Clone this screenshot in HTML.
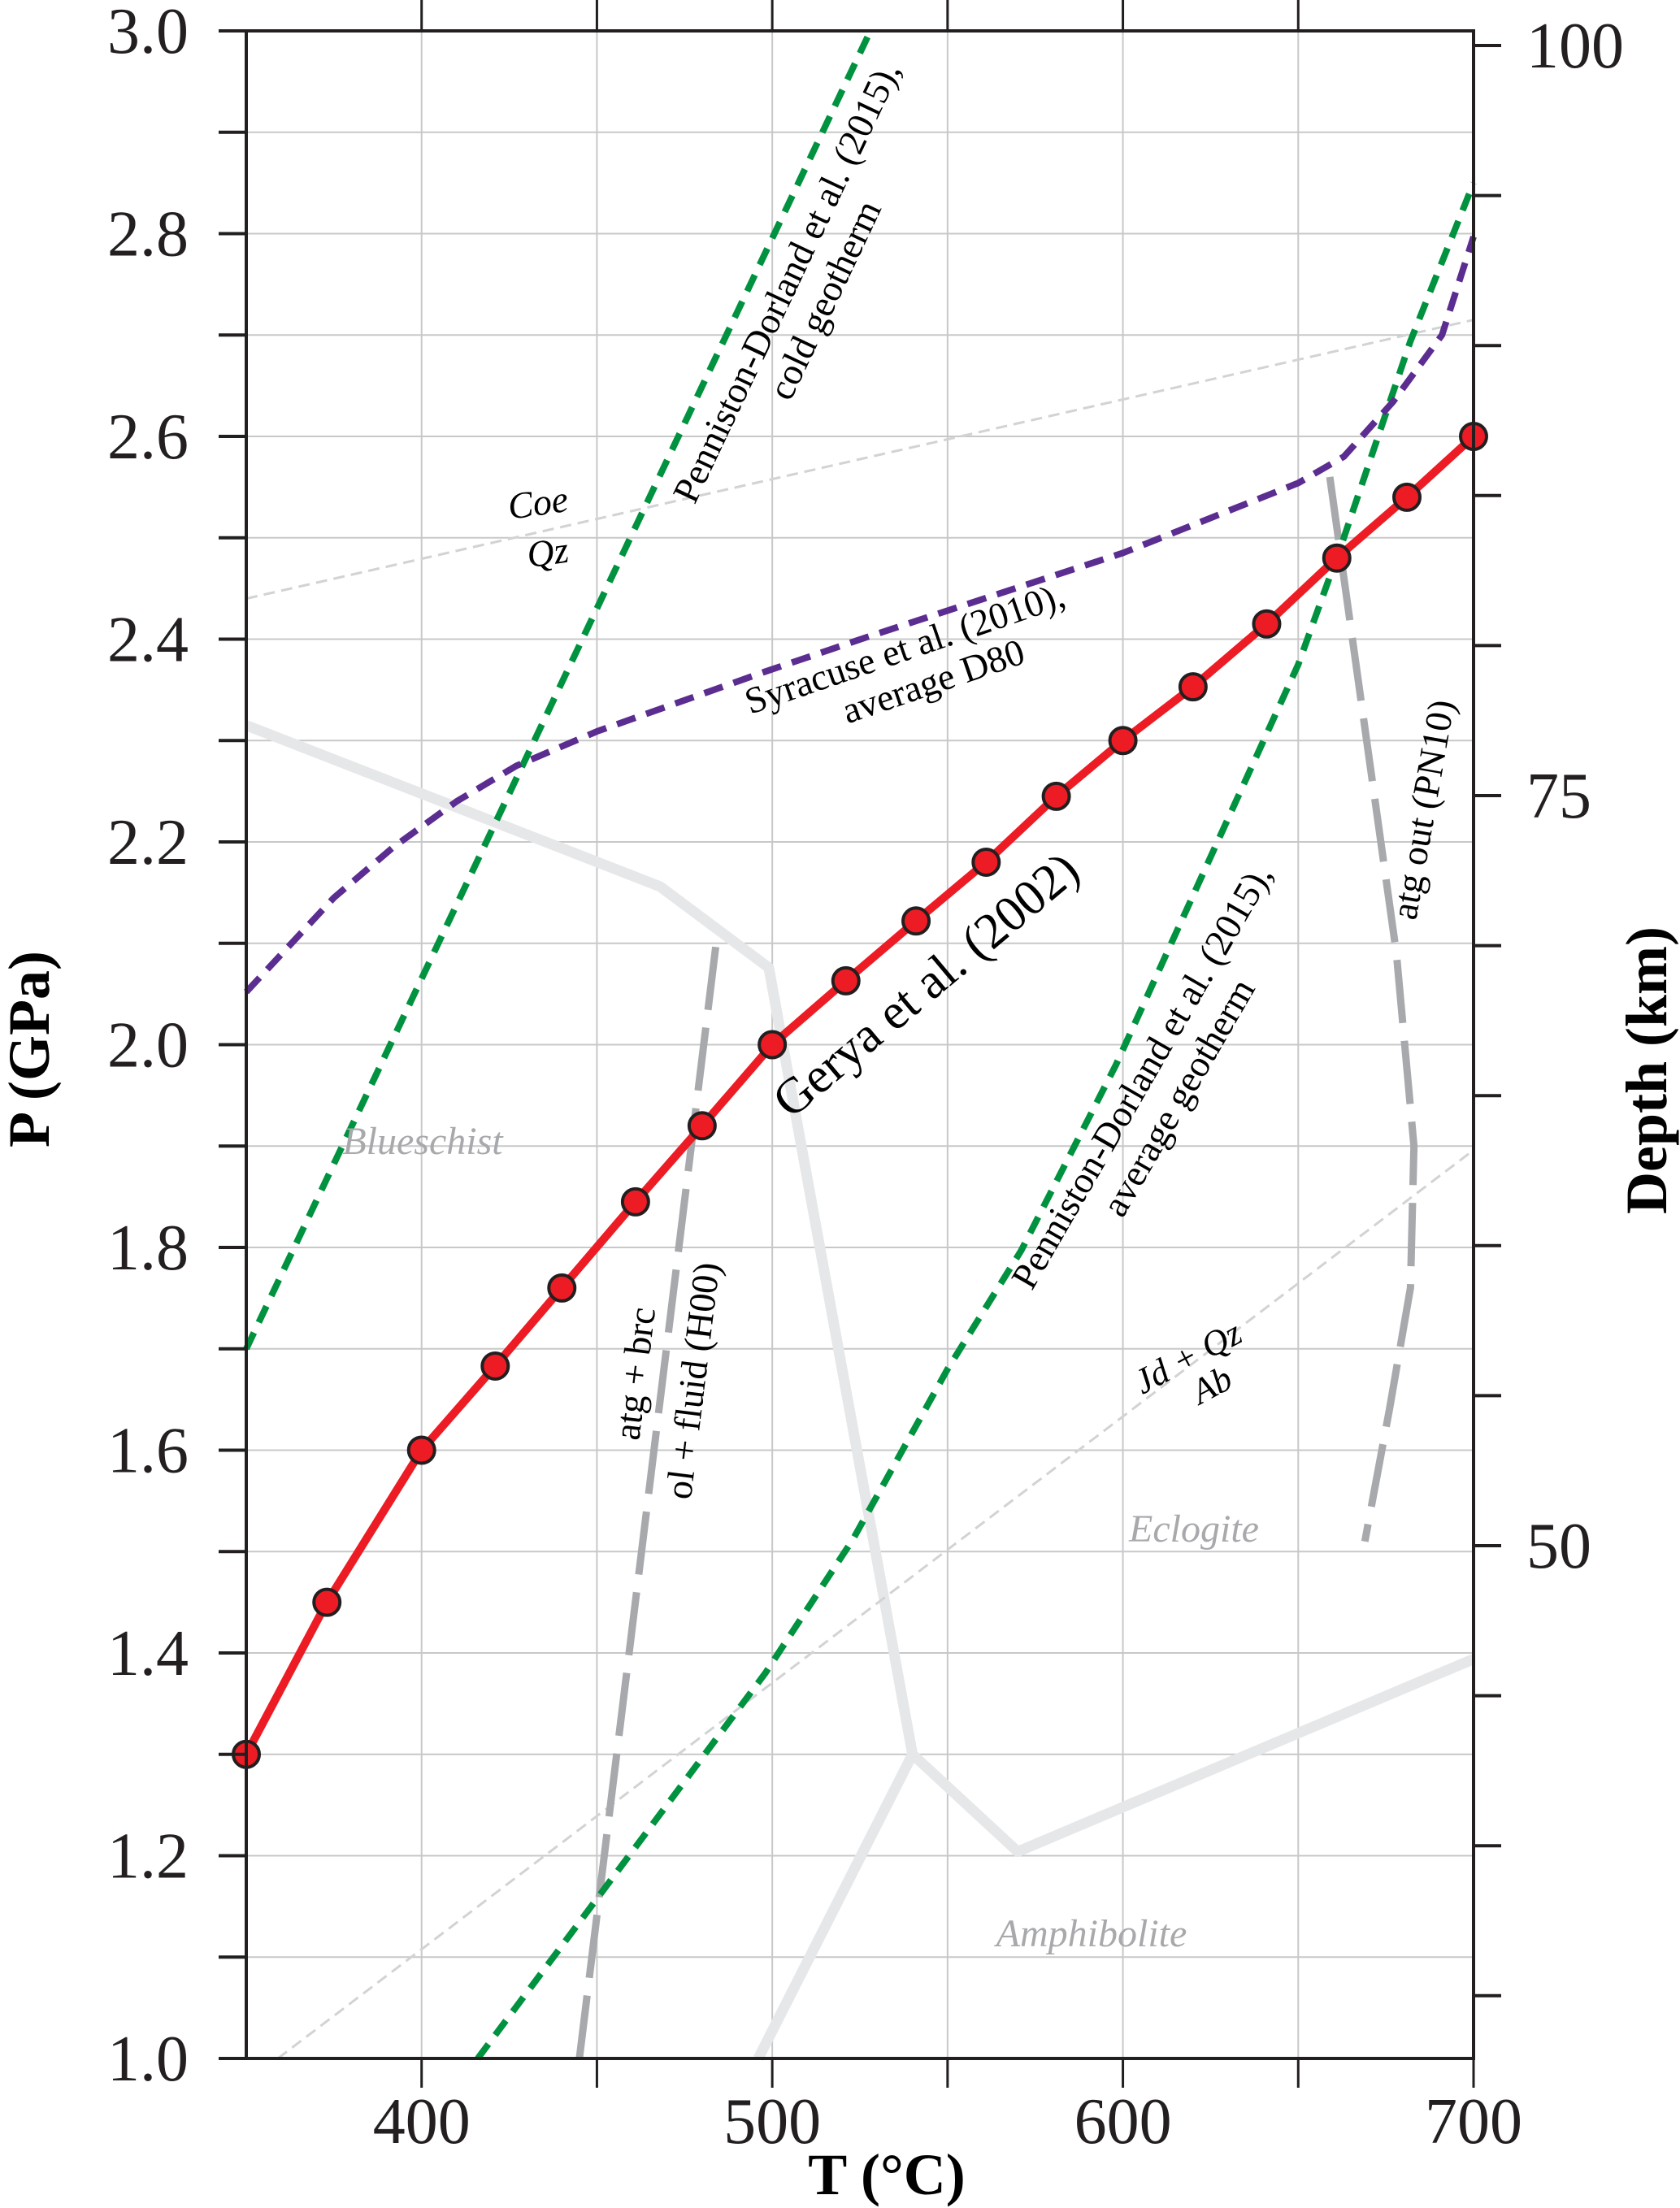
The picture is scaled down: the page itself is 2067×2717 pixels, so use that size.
<!DOCTYPE html>
<html><head><meta charset="utf-8"><style>
html,body{margin:0;padding:0;background:#fff}
svg{display:block;font-family:"Liberation Serif",serif}
</style></head><body>
<svg id="chart" width="2067" height="2717" viewBox="0 0 2067 2717" xmlns="http://www.w3.org/2000/svg">
<g id="grid"></g>
<g id="marks"></g>
<g id="axes"></g>
<g id="labels">
<text x="662" y="634" font-size="46" font-style="italic" text-anchor="middle" transform="rotate(-8 662 620)">Coe</text>
<text x="674" y="695" font-size="46" font-style="italic" text-anchor="middle" transform="rotate(-8 674 681)">Qz</text>
<g transform="translate(949,338) rotate(-64.7)"><text x="0" y="36" font-size="46" text-anchor="middle">Penniston-Dorland et al.  (2015),</text><text x="0" y="88" font-size="46" text-anchor="middle">cold geotherm</text></g>
<g transform="translate(1118,812) rotate(-19)"><text x="0" y="0" font-size="46" text-anchor="middle">Syracuse et al. (2010),</text><text x="20" y="50" font-size="46" text-anchor="middle">average D80</text></g>
<text x="1140" y="1232" font-size="62" text-anchor="middle" transform="rotate(-40 1140 1213)">Gerya et al.  (2002)</text>
<g transform="translate(1418,1332) rotate(-60)"><text x="0" y="0" font-size="46" text-anchor="middle">Penniston-Dorland et al.  (2015),</text><text x="0" y="52" font-size="46" text-anchor="middle">average geotherm</text></g>
<text x="1750" y="1012" font-size="46" text-anchor="middle" transform="rotate(-80 1750 996)">atg out (PN10)</text>
<g transform="translate(812,1694) rotate(-83)"><text x="0" y="-16" font-size="46" text-anchor="middle">atg + brc</text><text x="0" y="56" font-size="46" text-anchor="middle">ol + fluid (H00)</text></g>
<g transform="translate(1472,1690) rotate(-28)"><text x="0" y="-8" font-size="44" font-style="italic" text-anchor="middle">Jd + Qz</text><text x="10" y="36" font-size="44" font-style="italic" text-anchor="middle">Ab</text></g>
<text x="520" y="1420" font-size="48" font-style="italic" fill="#a7a9ac" text-anchor="middle">Blueschist</text>
<text x="1469" y="1897" font-size="48" font-style="italic" fill="#a7a9ac" text-anchor="middle">Eclogite</text>
<text x="1343" y="2395" font-size="48" font-style="italic" fill="#a7a9ac" text-anchor="middle">Amphibolite</text>
<text x="1091" y="2700" font-size="72" font-weight="bold" text-anchor="middle">T (°C)</text>
<text x="0" y="0" font-size="72" font-weight="bold" text-anchor="middle" transform="translate(60,1291) rotate(-90)">P (GPa)</text>
<text x="0" y="0" font-size="72" font-weight="bold" text-anchor="middle" transform="translate(2050,1317) rotate(-90)">Depth (km)</text>
</g>
</svg>
<script>
const coldT=[350,528];
const coldP=[1.7,3.0];
const avgT=[416,498,523,550,571,598,650,663,682,700];
const avgP=[1.0,1.38,1.512,1.68,1.797,1.98,2.375,2.5,2.694,2.85];
const syrT=[350,375,392,410,427,450,498,527,600,650,663,677,691,700];
const syrP=[2.052,2.145,2.195,2.24,2.275,2.309,2.368,2.402,2.485,2.554,2.58,2.634,2.70,2.797];
const coeT=[350,700];
const coeP=[2.44,2.715];
const jdT=[359,700];
const jdP=[1.0,1.896];
const bsT=[350,468,499,540];
const bsP=[2.315,2.156,2.076,1.30];
const amT=[540,570,700];
const amP=[1.30,1.204,1.394];
const loT=[540,496];
const loP=[1.30,1.0];
const hT=[445,484];
const hP=[1.0,2.1];
const pnT=[659,678,683,682,676,669];
const pnP=[2.56,2.09,1.9,1.76,1.64,1.51];
const geryaT=[350,373,400,421,440,461,480,500,521,541,561,581,600,620,641,661,681,700];
const geryaP=[1.3,1.45,1.6,1.683,1.76,1.845,1.92,2.0,2.063,2.122,2.18,2.245,2.3,2.353,2.415,2.48,2.54,2.6];
const pTicks=[1.0,1.2,1.4,1.6,1.8,2.0,2.2,2.4,2.6,2.8,3.0];
const tTicks=[400,500,600,700];
const depthLabels=[50,75,100];

const NS="http://www.w3.org/2000/svg";
const X0=303,X1=1813,Y0=38,Y1=2533;
const xs=t=>X0+(t-350)*(X1-X0)/350;
const ys=p=>Y1-(p-1)*(Y1-Y0)/2;
const yd=d=>1902-(d-50)*36.92;
function mk(tag,attrs,parent){const e=document.createElementNS(NS,tag);for(const k in attrs)e.setAttribute(k,attrs[k]);parent.appendChild(e);return e;}
const grid=document.getElementById('grid'),marks=document.getElementById('marks'),axes=document.getElementById('axes');
for(let i=1;i<20;i++){const p=1+i*0.1;const l=mk('line',{x1:X0,x2:X1,y1:ys(p),y2:ys(p),stroke:'#c8c8c8','stroke-width':2},grid);

}
for(let t=400;t<700;t+=50){const l=mk('line',{x1:xs(t),x2:xs(t),y1:Y0,y2:Y1,stroke:'#c8c8c8','stroke-width':2},grid);

}
function poly(T,P,st,name){const pts=T.map((t,i)=>xs(t)+','+ys(P[i])).join(' ');const e=mk('polyline',Object.assign({points:pts,fill:'none'},st),marks);

return e;}
const lg={stroke:'#e6e7e8','stroke-width':13,'stroke-linejoin':'round'};
poly(bsT,bsP,lg,'blueschist-boundary');
poly(amT,amP,lg,'amphibolite-boundary');
poly(loT,loP,lg,'lower-boundary');
const td={stroke:'#d1d3d4','stroke-width':3,'stroke-dasharray':'14 8'};
poly(coeT,coeP,td,'coe-qz-line');
poly(jdT,jdP,td,'jd-qz-ab-line');
const gd={stroke:'#a7a9ac','stroke-width':9,'stroke-dasharray':'78 22'};
poly(hT,hP,gd,'atg-brc-line');
poly(pnT,pnP,gd,'atg-out-line');
poly(coldT,coldP,{stroke:'#00923f','stroke-width':8,'stroke-dasharray':'22 14'},'cold-geotherm');
poly(avgT,avgP,{stroke:'#00923f','stroke-width':8,'stroke-dasharray':'22 14'},'average-geotherm');
poly(syrT,syrP,{stroke:'#5b2d90','stroke-width':8,'stroke-dasharray':'24 14','stroke-linejoin':'round'},'syracuse-d80');
poly(geryaT,geryaP,{stroke:'#ed1c24','stroke-width':10,'stroke-linejoin':'round'},'gerya-line');
geryaT.forEach((t,i)=>{const c=mk('circle',{cx:xs(t),cy:ys(geryaP[i]),r:16,fill:'#ed1c24',stroke:'#231f20','stroke-width':4},marks);

});
const fr=mk('rect',{x:X0,y:Y0,width:X1-X0,height:Y1-Y0,fill:'none',stroke:'#231f20','stroke-width':4},axes);


for(let i=0;i<=20;i++){const p=1+i*0.1;const l=mk('line',{x1:X0-34,x2:X0,y1:ys(p),y2:ys(p),stroke:'#231f20','stroke-width':4},axes);

}
pTicks.forEach(p=>{const t=mk('text',{x:232,y:ys(p)+27,'font-size':80,'text-anchor':'end',fill:'#231f20'},axes);t.textContent=p.toFixed(1);

});
for(let t=400;t<=650;t+=50){const l=mk('line',{x1:xs(t),x2:xs(t),y1:0,y2:Y0,stroke:'#231f20','stroke-width':3},axes);

}
for(let t=400;t<=700;t+=50){const l=mk('line',{x1:xs(t),x2:xs(t),y1:Y1,y2:Y1+36,stroke:'#231f20','stroke-width':3},axes);

}
tTicks.forEach(t=>{const e=mk('text',{x:xs(t),y:2637,'font-size':80,'text-anchor':'middle',fill:'#231f20'},axes);e.textContent=t;

});
for(let d=35;d<=100;d+=5){const l=mk('line',{x1:X1,x2:X1+34,y1:yd(d),y2:yd(d),stroke:'#231f20','stroke-width':4},axes);

}
depthLabels.forEach(d=>{const e=mk('text',{x:1878,y:yd(d)+27,'font-size':80,fill:'#231f20'},axes);e.textContent=d;

});
</script>
</body></html>
